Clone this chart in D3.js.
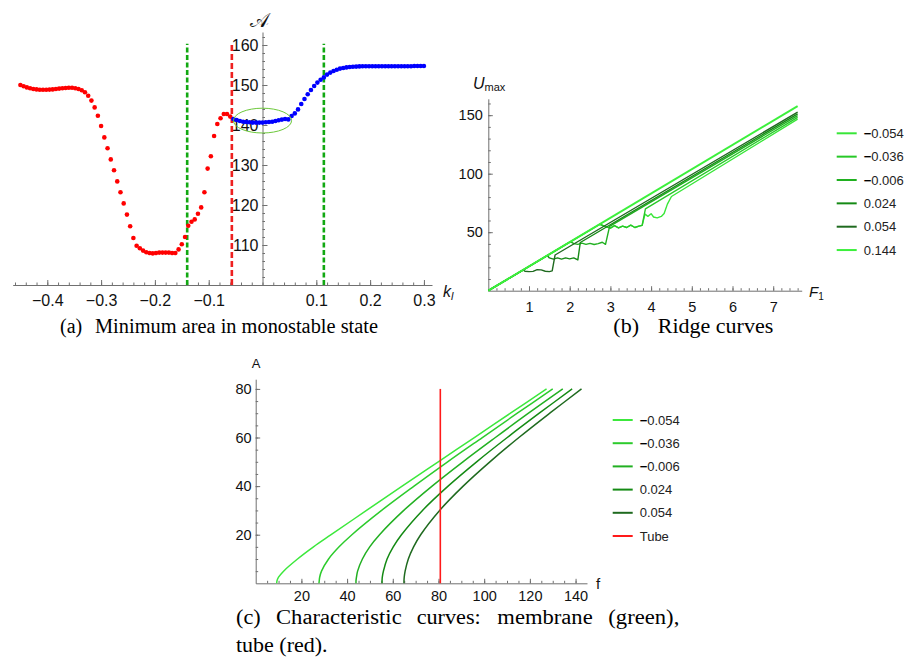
<!DOCTYPE html>
<html><head><meta charset="utf-8">
<script src="https://cdn.jsdelivr.net/npm/d3@7"></script>
<style>body{margin:0;background:#fff}svg{display:block}</style>
</head><body>
<script>
// ---------- Panel (a): minimum area vs k_l ----------
const redK = [-0.45,-0.444,-0.438,-0.432,-0.426,-0.42,-0.414,-0.408,-0.402,-0.396,-0.39,-0.384,-0.378,-0.372,-0.366,-0.36,-0.354,-0.348,-0.342,-0.336,-0.33,-0.324,-0.318,-0.312,-0.306,-0.3,-0.294,-0.288,-0.282,-0.276,-0.27,-0.264,-0.258,-0.252,-0.246,-0.24,-0.234,-0.228,-0.222,-0.216,-0.21,-0.204,-0.198,-0.192,-0.186,-0.18,-0.174,-0.168,-0.162,-0.156,-0.15,-0.144,-0.138,-0.132,-0.126,-0.12,-0.114,-0.108,-0.102,-0.096,-0.09,-0.084,-0.078,-0.072,-0.066,-0.06];
const redA = [150.0,149.7,149.4,149.2,149.0,148.9,148.8,148.8,148.8,148.85,148.9,149.0,149.1,149.2,149.25,149.3,149.3,149.2,149.0,148.7,148.2,147.3,146.1,144.4,142.3,139.75,136.9,134.2,131.4,128.7,125.9,123.2,120.4,117.6,114.7,111.75,109.8,109.2,108.6,108.2,108.0,107.9,108.0,108.1,108.1,108.1,108.1,108.0,108.0,108.9,110.2,112.0,114.8,115.8,116.4,117.8,119.4,123.2,129.1,132.2,137.25,140.25,141.7,142.75,142.75,142.1];
const blueK = [-0.054,-0.048,-0.042,-0.036,-0.03,-0.024,-0.018,-0.012,-0.006,0,0.006,0.012,0.018,0.024,0.03,0.036,0.042,0.048,0.054,0.06,0.066,0.072,0.078,0.084,0.09,0.096,0.102,0.108,0.114,0.12,0.126,0.132,0.138,0.144,0.15,0.156,0.162,0.168,0.174,0.18,0.186,0.192,0.198,0.204,0.21,0.216,0.222,0.228,0.234,0.24,0.246,0.252,0.258,0.264,0.27,0.276,0.282,0.288,0.294,0.3];
const blueA = [141.5,141.25,141.0,140.8,140.75,140.7,140.6,140.6,140.6,140.6,140.7,140.75,140.8,141.0,141.2,141.35,141.5,141.4,142.25,142.9,143.9,145.25,146.5,147.7,148.75,149.75,150.6,151.3,151.9,152.6,153.1,153.5,153.8,154.1,154.25,154.4,154.5,154.55,154.6,154.65,154.7,154.7,154.7,154.7,154.7,154.7,154.7,154.7,154.7,154.7,154.7,154.7,154.7,154.7,154.7,154.7,154.75,154.75,154.75,154.75];
const dashGreenK = [-0.14, 0.114];
const dashRedK = [-0.057];
const dashTopA = 160.3;
const ellipseK = [0, 0.054];      // centre k, half-width in k
const ellipseA = [141.1, 3.1];    // centre A, half-height in A
const aXTicks = [-0.4,-0.3,-0.2,-0.1,0.1,0.2,0.3];
const aYTicks = [110,120,130,140,150,160];

// ---------- Panel (b): ridge curves ----------
const ridgeLabels = ["−0.054","−0.036","−0.006","0.024","0.054","0.144"];
const ridgeColors = ["#38e638","#27c827","#20b020","#158a15","#1f6a1f","#3cf03c"];
const ridgeM054 = [[0,0],[2.74,56.8],[2.85,55.2],[3.0,53.5],[3.1,55.6],[3.2,53.6],[3.3,55.2],[3.4,54.0],[3.5,56.0],[3.6,54.0],[3.7,55.2],[3.78,55.8],[3.85,65.5],[3.92,63.5],[4.0,65.8],[4.06,63.0],[4.15,62.2],[4.25,63.5],[4.32,66.0],[4.4,74.0],[4.5,80.5],[7.6,146.6]];
const ridgeM036 = [[0,0],[2.74,56.8],[2.85,55.2],[3.0,53.5],[3.1,55.6],[3.2,53.6],[3.3,55.2],[3.4,54.0],[3.5,56.0],[3.6,54.0],[3.7,55.2],[3.78,55.8],[3.86,70.0],[7.6,148.2]];
const ridgeM006 = [[0,0],[2.02,41.9],[2.1,40.2],[2.2,39.6],[2.3,40.6],[2.4,39.6],[2.5,40.4],[2.6,39.5],[2.7,40.2],[2.8,41.4],[2.88,39.6],[2.98,55.0],[7.6,149.7]];
const ridgeP024 = [[0,0],[1.45,30.1],[1.5,28.0],[1.6,27.0],[1.7,28.0],[1.8,27.0],[1.9,28.0],[2.0,27.2],[2.1,28.0],[2.2,26.3],[2.26,41.2],[7.6,151.2]];
const ridgeP054 = [[0,0],[0.86,17.8],[0.9,16.6],[1.0,16.3],[1.1,16.5],[1.2,18.0],[1.3,17.8],[1.4,16.6],[1.5,16.3],[1.57,17.0],[1.64,30.5],[7.6,152.6]];
const ridgeP144 = [[0,0],[7.6,157.8]];
const bXTicks = [1,2,3,4,5,6,7];
const bYTicks = [50,100,150];

// ---------- Panel (c): characteristic curves ----------
const charLabels = ["−0.054","−0.036","−0.006","0.024","0.054","Tube"];
const charColors = ["#3ce83c","#2ccb2c","#22b022","#148a14","#1f6a1f","#ff1a1a"];
const charA = [0,1,2.5,5,10,15,20,30,40,50,60,70,80];
const charF_M054 = [9.2,9.3,10.0,12.2,18.3,25.3,33.0,48.5,64.1,79.9,95.7,111.5,127.3];
const charF_M036 = [27.7,27.8,28.0,28.8,31.9,36.5,42.1,55.1,69.3,84.0,99.2,114.5,130.0];
const charF_M006 = [43.9,43.9,44.1,44.6,46.7,49.9,54.2,64.8,77.2,90.7,104.9,119.4,134.4];
const charF_P024 = [55.3,55.3,55.4,55.9,57.5,60.2,63.8,73.0,84.2,96.7,110.1,124.1,138.5];
const charF_P054 = [64.9,64.9,65.0,65.4,66.8,69.1,72.2,80.5,90.8,102.5,115.2,128.7,142.6];
const tubeF = 80.8;
const tubeA = [0, 80];
const cXTicks = [20,40,60,80,100,120,140];
const cYTicks = [20,40,60,80];

// ================= drawing =================
const W = 914, H = 659;
const SANS = "'Liberation Sans', Arial, Helvetica, sans-serif";
const SERIF = "'Liberation Serif', 'Times New Roman', serif";
const AX = "#707070";
const svg = d3.select("body").append("svg").attr("width", W).attr("height", H);

const fmtNum = d => (d < 0 ? "\u2212" : "") + String(Math.abs(d));
const fmt1 = d => (d < 0 ? "\u2212" : "") + Math.abs(d).toFixed(1);

function styleAxis(g, size) {
  g.attr("font-family", SANS).attr("font-size", size);
  g.selectAll("path.domain").attr("stroke", AX).attr("stroke-width", 1);
  g.selectAll(".tick line").attr("stroke", AX).attr("stroke-width", 1);
  g.selectAll(".tick text").attr("fill", "#111");
}
function xAxis(scale, y, majors, minors, fmt, majLen, minLen, pad, size) {
  const gm = svg.append("g").attr("transform", `translate(0,${y})`);
  gm.call(d3.axisBottom(scale).tickValues(minors).tickSizeInner(-minLen).tickSizeOuter(0).tickFormat(""));
  gm.select(".domain").remove();
  styleAxis(gm, size);
  const g = svg.append("g").attr("transform", `translate(0,${y})`);
  g.call(d3.axisBottom(scale).tickValues(majors).tickSizeInner(-majLen).tickSizeOuter(0).tickPadding(pad).tickFormat(fmt));
  styleAxis(g, size);
  return g;
}
function yAxis(scale, x, majors, minors, fmt, majLen, minLen, pad, size) {
  const gm = svg.append("g").attr("transform", `translate(${x},0)`);
  gm.call(d3.axisLeft(scale).tickValues(minors).tickSizeInner(-minLen).tickSizeOuter(0).tickFormat(""));
  gm.select(".domain").remove();
  styleAxis(gm, size);
  const g = svg.append("g").attr("transform", `translate(${x},0)`);
  g.call(d3.axisLeft(scale).tickValues(majors).tickSizeInner(-majLen).tickSizeOuter(0).tickPadding(pad).tickFormat(fmt));
  styleAxis(g, size);
  return g;
}
function legend(x, y0, step, labels, colors) {
  const g = svg.append("g").attr("font-family", SANS).attr("font-size", 13);
  labels.forEach((lab, i) => {
    const y = y0 + i * step;
    g.append("line").attr("x1", x).attr("x2", x + 20).attr("y1", y).attr("y2", y)
      .attr("stroke", colors[i]).attr("stroke-width", 2);
    const t = g.append("text").attr("x", x + 27).attr("y", y).attr("dy", "0.35em").attr("fill", "#222");
    if (lab.startsWith("\u2212")) {
      t.append("tspan").attr("font-weight", "bold").attr("fill", "#000").text("\u2212");
      t.append("tspan").text(lab.slice(1));
    } else t.text(lab);
  });
}

// ----- panel (a)
const xA = d3.scaleLinear().domain([-0.4643, 0.315]).range([12.7, 432]);
const yA = d3.scaleLinear().domain([100, 163.25]).range([285, 32]);
xAxis(xA, yA(100), aXTicks, d3.range(-0.46, 0.301, 0.02), fmt1, 5, 2.5, 10, 16);
yAxis(yA, xA(0), aYTicks, d3.range(102, 163, 2), fmtNum, 5, 2.5, 4, 16);

dashGreenK.forEach(k => svg.append("line").attr("x1", xA(k)).attr("x2", xA(k))
  .attr("y1", yA(100)).attr("y2", yA(dashTopA)).attr("stroke", "#12a812")
  .attr("stroke-width", 2.6).attr("stroke-dasharray", "5,2.5"));
dashRedK.forEach(k => svg.append("line").attr("x1", xA(k)).attr("x2", xA(k))
  .attr("y1", yA(100)).attr("y2", yA(dashTopA)).attr("stroke", "#ee2020")
  .attr("stroke-width", 2.6).attr("stroke-dasharray", "6,3"));

svg.append("g").selectAll("circle").data(redK.map((k, i) => [k, redA[i]])).join("circle")
  .attr("cx", d => xA(d[0])).attr("cy", d => yA(d[1])).attr("r", 2.3).attr("fill", "#ff0000");
svg.append("g").selectAll("circle").data(blueK.map((k, i) => [k, blueA[i]])).join("circle")
  .attr("cx", d => xA(d[0])).attr("cy", d => yA(d[1])).attr("r", 2.3).attr("fill", "#0000ff");

svg.append("ellipse").attr("cx", xA(ellipseK[0])).attr("cy", yA(ellipseA[0]))
  .attr("rx", xA(ellipseK[0] + ellipseK[1]) - xA(ellipseK[0]))
  .attr("ry", yA(ellipseA[0] - ellipseA[1]) - yA(ellipseA[0]))
  .attr("fill", "none").attr("stroke", "#6cc83a").attr("stroke-width", 1);

svg.append("text").attr("x", xA(0) - 3).attr("y", 27).attr("text-anchor", "middle")
  .attr("font-family", "'DejaVu Serif', 'DejaVu Sans', serif").attr("font-size", 20).attr("fill", "#111").text("\u{1D49C}");
{
  const t = svg.append("text").attr("x", 443).attr("y", 297).attr("font-family", SANS)
    .attr("font-style", "italic").attr("font-size", 16).attr("fill", "#111");
  t.append("tspan").text("k");
  t.append("tspan").attr("font-size", 11).attr("dy", 3).text("l");
}

// ----- panel (b)
const xB = d3.scaleLinear().domain([0, 7.7]).range([488.3, 801.7]);
const yB = d3.scaleLinear().domain([0, 164]).range([290.7, 98.8]);
xAxis(xB, yB(0), bXTicks, d3.range(0.2, 7.61, 0.2), fmtNum, 4.5, 2.5, 11, 14.5);
yAxis(yB, xB(0), bYTicks, d3.range(10, 161, 10), fmtNum, 4.5, 2.5, 5.5, 14.5);

const lineB = d3.line().x(d => xB(d[0])).y(d => yB(d[1]));
const ridges = [ridgeM054, ridgeM036, ridgeM006, ridgeP024, ridgeP054, ridgeP144];
ridges.forEach((r, i) => svg.append("path").attr("d", lineB(r)).attr("fill", "none")
  .attr("stroke", ridgeColors[i]).attr("stroke-width", i === 5 ? 2 : 1.4).attr("stroke-linejoin", "round"));

{
  const t = svg.append("text").attr("x", 473).attr("y", 89.3).attr("font-family", SANS)
    .attr("font-size", 16).attr("fill", "#111");
  t.append("tspan").attr("font-style", "italic").text("U");
  t.append("tspan").attr("font-size", 11).attr("dy", 2).text("max");
  const f = svg.append("text").attr("x", 809).attr("y", 296.5).attr("font-family", SANS)
    .attr("font-size", 15).attr("fill", "#111");
  f.append("tspan").attr("font-style", "italic").text("F");
  f.append("tspan").attr("font-size", 10).attr("dy", 3.5).text("1");
}
legend(836.7, 133.3, 23.35, ridgeLabels, ridgeColors);

// ----- panel (c)
const xC = d3.scaleLinear().domain([0, 145]).range([255.7, 587]);
const yC = d3.scaleLinear().domain([0, 84]).range([583.3, 379.2]);
xAxis(xC, yC(0), cXTicks, d3.range(5, 145, 5), fmtNum, 4.5, 2.5, 7, 14.5);
yAxis(yC, xC(0), cYTicks, d3.range(5, 81, 5), fmtNum, 4.5, 2.5, 4, 14.5);

const lineC = d3.line().x(d => xC(d[0])).y(d => yC(d[1])).curve(d3.curveCatmullRom.alpha(0.5));
const chars = [charF_M054, charF_M036, charF_M006, charF_P024, charF_P054];
chars.forEach((fs, i) => svg.append("path").attr("d", lineC(fs.map((f, j) => [f, charA[j]])))
  .attr("fill", "none").attr("stroke", charColors[i]).attr("stroke-width", 1.5));
svg.append("path").attr("d", d3.line().x(d => xC(d[0])).y(d => yC(d[1]))(tubeA.map(a => [tubeF, a])))
  .attr("stroke", charColors[5]).attr("stroke-width", 1.6).attr("fill", "none");

svg.append("text").attr("x", 256).attr("y", 368).attr("text-anchor", "middle").attr("font-family", SANS)
  .attr("font-size", 13).attr("fill", "#111").text("A");
svg.append("text").attr("x", 596).attr("y", 589).attr("font-family", SANS)
  .attr("font-size", 15).attr("fill", "#111").text("f");
legend(612.7, 420, 23.2, charLabels, charColors);

// ----- captions (word placement as in the typeset reference)
const cap = svg.append("g").attr("font-family", SERIF).attr("font-size", 20).attr("fill", "#000");
function word(x, y, s, len) {
  const t = cap.append("text").attr("x", x).attr("y", y).attr("xml:space", "preserve").text(s);
  if (len) t.attr("textLength", len).attr("lengthAdjust", "spacingAndGlyphs");
  return t;
}
word(60, 333, "(a)");
word(95, 333, "Minimum area in monostable state", 283);
word(613.3, 333, "(b)", 25.7);
word(657.8, 333, "Ridge curves", 115.5);
word(236, 624, "(c)", 24.7);
word(276, 624, "Characteristic", 125.7);
word(416.7, 624, "curves:", 64);
word(497.3, 624, "membrane", 95.4);
word(608.3, 624, "(green),", 71);
word(236, 652, "tube (red).", 91.6);
</script>
</body></html>
